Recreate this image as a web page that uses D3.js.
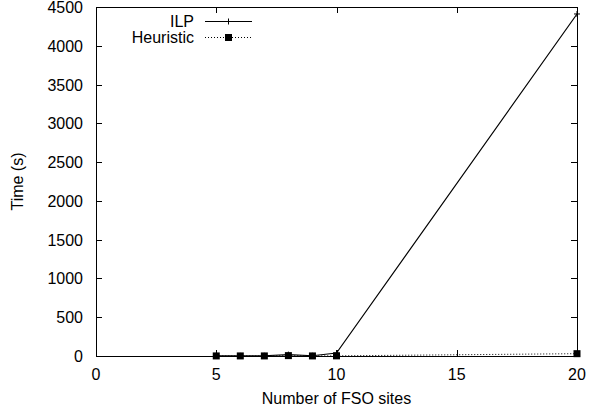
<!DOCTYPE html>
<html><head><meta charset="utf-8">
<script src="https://cdn.jsdelivr.net/npm/d3@7"></script>
<style>body{margin:0;background:#fff}svg{display:block}text{font-family:"Liberation Sans",Arial,sans-serif;font-size:16px;fill:#000}</style>
</head><body>
<script>
const sites = [5, 6, 7, 8, 9, 10, 20];
const ilp = [2, 2, 3, 18, 3, 38, 4410];
const heuristic = [1, 1, 1, 5, 1, 2, 30];
const xTicks = [0, 5, 10, 15, 20];
const yTicks = [0, 500, 1000, 1500, 2000, 2500, 3000, 3500, 4000, 4500];
const seriesNames = ["ILP", "Heuristic"];

const W = 589, H = 415;
const L = 96, R = 577, T = 7, B = 356;
const svg = d3.select("body").append("svg").attr("width", W).attr("height", H);
const x = d3.scaleLinear().domain([0, 20]).range([L, R]);
const y = d3.scaleLinear().domain([0, 4500]).range([B, T]);

// ticks (inward, mirrored)
const g = svg.append("g").attr("stroke", "#000").attr("stroke-width", 1);
xTicks.forEach(t => {
  const px = Math.round(x(t)) + 0.5;
  g.append("line").attr("x1", px).attr("x2", px).attr("y1", B).attr("y2", B - 6);
  g.append("line").attr("x1", px).attr("x2", px).attr("y1", T).attr("y2", T + 6);
});
yTicks.forEach(t => {
  const py = Math.round(y(t)) + 0.5;
  g.append("line").attr("x1", L).attr("x2", L + 6).attr("y1", py).attr("y2", py);
  g.append("line").attr("x1", R).attr("x2", R - 6).attr("y1", py).attr("y2", py);
});
svg.append("rect").attr("x", L + 0.5).attr("y", T + 0.5).attr("width", R - L).attr("height", B - T)
  .attr("fill", "none").attr("stroke", "#000");

xTicks.forEach(t => {
  svg.append("text").attr("x", x(t)).attr("y", B + 24).attr("text-anchor", "middle").text(t);
});
yTicks.forEach(t => {
  svg.append("text").attr("x", L - 13).attr("y", y(t) + 6).attr("text-anchor", "end").text(t);
});
svg.append("text").attr("x", (L + R) / 2).attr("y", 404).attr("text-anchor", "middle").text("Number of FSO sites");
svg.append("text").attr("transform", `translate(23,${(T + B) / 2}) rotate(-90)`).attr("text-anchor", "middle").text("Time (s)");

const line = d3.line().x(d => x(d[0])).y(d => y(d[1]));
const ilpData = sites.map((s, i) => [s, ilp[i]]);
const heurData = sites.map((s, i) => [s, heuristic[i]]);

svg.append("path").datum(heurData).attr("d", line).attr("fill", "none").attr("stroke", "#000")
  .attr("stroke-width", 1).attr("stroke-dasharray", "1,2");
svg.append("path").datum(ilpData).attr("d", line).attr("fill", "none").attr("stroke", "#000").attr("stroke-width", 1.2);

function plus(px, py) {
  svg.append("path").attr("d", `M${px - 3},${py}H${px + 3}M${px},${py - 3}V${py + 3}`).attr("stroke", "#000");
}
function square(px, py) {
  svg.append("rect").attr("x", px - 3.5).attr("y", py - 3.5).attr("width", 7).attr("height", 7).attr("fill", "#000");
}
ilpData.forEach(d => plus(x(d[0]), y(d[1])));
heurData.forEach(d => square(x(d[0]), y(d[1])));

// legend
const ly = [21, 37];
svg.append("text").attr("x", 194).attr("y", ly[0] + 6).attr("text-anchor", "end").text(seriesNames[0]);
svg.append("line").attr("x1", 205).attr("x2", 252).attr("y1", ly[0] + 0.5).attr("y2", ly[0] + 0.5).attr("stroke", "#000").attr("stroke-width", 1.2);
plus(228.5, ly[0] + 0.5);
svg.append("text").attr("x", 194).attr("y", ly[1] + 6).attr("text-anchor", "end").text(seriesNames[1]);
svg.append("line").attr("x1", 205).attr("x2", 252).attr("y1", ly[1] + 0.5).attr("y2", ly[1] + 0.5).attr("stroke", "#000").attr("stroke-dasharray", "1,2");
square(228.5, ly[1] + 0.5);
</script>
</body></html>
